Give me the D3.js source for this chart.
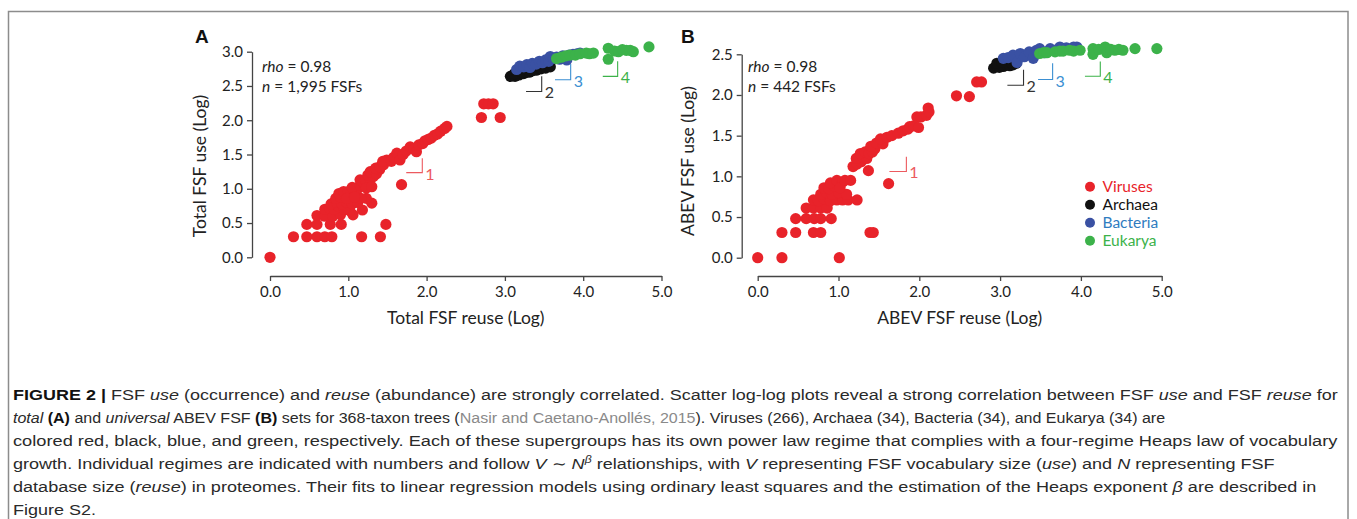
<!DOCTYPE html>
<html>
<head>
<meta charset="utf-8">
<script src="https://cdn.jsdelivr.net/npm/d3@7"></script>
<style>
html, body { margin: 0; padding: 0; background: #fff; }
svg text { font-family: Lato, "Open Sans", sans-serif; }
.cap text { font-family: "Liberation Sans", Arial, sans-serif; }
</style>
</head>
<body>
<svg id="fig" width="1357" height="519"></svg>
<script>
const groups = ["Viruses", "Archaea", "Bacteria", "Eukarya"];
const groupColors = { Viruses: "#e8232a", Archaea: "#111111", Bacteria: "#3a51a3", Eukarya: "#3cb24a" };
const legendColors = { Viruses: "#e8232a", Archaea: "#111111", Bacteria: "#2f7cc0", Eukarya: "#3cb24a" };
const regimeColors = { Viruses: "#ec5a5f", Archaea: "#333333", Bacteria: "#3b8fd2", Eukarya: "#3cb24a" };

const xTicks = [0, 1, 2, 3, 4, 5];
const yTicksA = [0, 0.5, 1, 1.5, 2, 2.5, 3];
const yTicksB = [0, 0.5, 1, 1.5, 2, 2.5];

// panel A: total FSF set (log reuse, log use)
const totalViruses = [
  [0.00,0.00],
  [0.30,0.30],[0.47,0.30],[0.60,0.30],[0.70,0.30],[0.79,0.30],[1.17,0.30],[1.41,0.30],
  [0.47,0.48],[0.60,0.48],[0.77,0.48],[0.91,0.48],[1.48,0.48],
  [0.60,0.61],[0.70,0.60],[0.80,0.60],[0.90,0.62],[1.06,0.62],[1.02,0.68],[1.18,0.69],
  [0.70,0.70],[0.76,0.72],[0.82,0.70],[0.88,0.74],[0.95,0.70],[0.78,0.78],[0.85,0.80],
  [0.92,0.78],[0.98,0.80],[1.05,0.78],[1.12,0.80],[1.30,0.79],[1.23,0.86],[1.16,0.86],
  [0.84,0.86],[0.90,0.88],[0.96,0.90],[1.02,0.92],[0.88,0.93],[0.94,0.96],[1.00,0.96],
  [1.08,0.95],[1.12,1.00],[1.05,1.02],[0.98,0.86],[1.08,0.88],
  [1.15,1.05],[1.20,1.08],[1.15,1.13],[1.22,1.12],[1.28,1.14],[1.23,1.01],[1.30,1.03],
  [1.25,1.20],[1.32,1.18],[1.28,1.25],[1.36,1.22],[1.40,1.28],[1.35,1.30],[1.40,1.32],
  [1.45,1.35],[1.49,1.42],[1.44,1.40],[1.55,1.40],[1.58,1.46],[1.62,1.52],[1.66,1.42],
  [1.70,1.50],[1.74,1.55],[1.68,1.06],[1.79,1.61],[1.84,1.58],[1.87,1.54],[1.90,1.64],
  [1.95,1.66],[1.98,1.70],[2.02,1.72],[2.06,1.74],[2.10,1.78],[2.14,1.80],[2.18,1.84],
  [2.23,1.88],[2.26,1.91],
  [2.70,2.04],[2.94,2.04],[2.73,2.24],[2.79,2.24],[2.85,2.24]
];
const totalArchaea = [
  [3.07,2.64],[3.10,2.65],[3.13,2.64],[3.15,2.67],[3.18,2.66],[3.21,2.68],[3.24,2.68],
  [3.27,2.70],[3.31,2.70],[3.35,2.72],[3.40,2.73],[3.46,2.75],[3.52,2.76],[3.58,2.78],
  [3.12,2.68],[3.20,2.71]
];
const totalBacteria = [
  [3.15,2.74],[3.19,2.79],[3.24,2.78],[3.28,2.81],[3.32,2.77],[3.35,2.83],[3.40,2.82],
  [3.44,2.86],[3.48,2.84],[3.52,2.88],[3.56,2.86],[3.58,2.93],[3.62,2.90],[3.66,2.92],
  [3.70,2.89],[3.74,2.94],[3.79,2.88],[3.82,2.95],[3.87,2.96],[3.92,2.97],[3.96,2.98]
];
const totalEukarya = [
  [3.66,2.90],[3.72,2.92],[3.78,2.94],[3.83,2.95],[3.90,2.95],[3.96,2.97],[4.04,2.98],
  [4.08,2.97],[4.13,2.98],[4.32,3.05],[4.32,2.89],[4.40,3.01],[4.45,3.00],[4.50,3.03],
  [4.55,3.02],[4.60,3.02],[4.64,3.00],[4.84,3.07]
];

// panel B: universal ABEV FSF set
const abevViruses = [
  [0.00,0.00],[0.30,0.00],[1.01,0.00],
  [0.30,0.31],[0.47,0.31],[0.69,0.31],[0.78,0.31],[1.39,0.31],[1.43,0.31],
  [0.47,0.48],[0.60,0.48],[0.70,0.48],[0.78,0.48],[0.91,0.48],
  [0.60,0.61],[0.69,0.61],[0.78,0.61],[0.86,0.61],
  [0.69,0.71],[0.75,0.70],[0.82,0.72],[0.90,0.70],[0.98,0.71],[1.05,0.71],[1.12,0.71],[1.23,0.71],
  [0.78,0.78],[0.85,0.80],[0.92,0.78],[1.00,0.80],[1.10,0.78],[0.82,0.86],[0.88,0.85],
  [0.95,0.88],[0.90,0.92],[0.98,0.95],[1.05,0.93],[1.02,0.86],[1.08,0.95],
  [1.62,0.91],[1.15,0.95],
  [1.37,1.07],[1.18,1.12],[1.23,1.15],[1.28,1.18],[1.22,1.22],[1.30,1.24],[1.35,1.22],
  [1.27,1.28],[1.33,1.30],[1.38,1.28],[1.42,1.30],[1.45,1.34],[1.40,1.37],[1.47,1.41],
  [1.55,1.40],[1.52,1.46],[1.60,1.48],[1.66,1.50],[1.74,1.53],[1.80,1.56],[1.86,1.58],
  [1.88,1.61],[1.93,1.62],[1.99,1.60],[1.97,1.73],[2.02,1.73],[2.09,1.75],[2.11,1.84],
  [2.12,1.79],
  [2.46,1.99],[2.62,1.98],[2.71,2.16],[2.77,2.16]
];
const abevArchaea = [
  [2.92,2.33],[2.96,2.36],[2.99,2.34],[3.04,2.35],[3.08,2.37],[3.12,2.36],[3.16,2.37],
  [2.96,2.39],[3.02,2.40],[3.20,2.39]
];
const abevBacteria = [
  [3.04,2.45],[3.10,2.46],[3.16,2.49],[3.21,2.40],[3.25,2.51],[3.30,2.47],[3.36,2.53],
  [3.41,2.45],[3.45,2.55],[3.49,2.57],[3.55,2.52],[3.62,2.57],[3.68,2.55],[3.74,2.59],
  [3.82,2.58],[3.91,2.59],[3.95,2.59]
];
const abevEukarya = [
  [3.49,2.51],[3.54,2.52],[3.58,2.52],[3.68,2.53],[3.74,2.54],[3.78,2.54],[3.86,2.55],
  [3.91,2.54],[3.99,2.55],[4.15,2.57],[4.15,2.50],[4.22,2.56],[4.30,2.59],[4.32,2.52],
  [4.37,2.56],[4.42,2.55],[4.47,2.56],[4.52,2.55],[4.67,2.57],[4.94,2.57]
];

// regime brackets, in data units: vertical at x, horizontal back to left
const regimesA = [
  { label: "1", group: "Viruses",  x: 1.945, left: 1.74, top: 1.445, bottom: 1.235 },
  { label: "2", group: "Archaea",  x: 3.47,  left: 3.27, top: 2.64,  bottom: 2.42 },
  { label: "3", group: "Bacteria", x: 3.84,  left: 3.64, top: 2.82,  bottom: 2.59 },
  { label: "4", group: "Eukarya",  x: 4.44,  left: 4.25, top: 2.86,  bottom: 2.64 }
];
const regimesB = [
  { label: "1", group: "Viruses",  x: 1.84, left: 1.63, top: 1.24, bottom: 1.06 },
  { label: "2", group: "Archaea",  x: 3.29, left: 3.09, top: 2.31, bottom: 2.12 },
  { label: "3", group: "Bacteria", x: 3.65, left: 3.47, top: 2.39, bottom: 2.19 },
  { label: "4", group: "Eukarya",  x: 4.24, left: 4.05, top: 2.41, bottom: 2.23 }
];

const svg = d3.select("#fig");

// figure frame
svg.append("rect").attr("x", 8.5).attr("y", 11.5).attr("width", 1339.5).attr("height", 600)
  .attr("fill", "none").attr("stroke", "#8c8c8c").attr("stroke-width", 1.5);

function drawPanel(p) {
  const g = svg.append("g");
  const x = d3.scaleLinear().domain([0, 5]).range(p.xRange);
  const y = d3.scaleLinear().domain([0, p.yMax]).range(p.yRange);

  const yAxis = g.append("g").attr("transform", `translate(${p.yAxisX},0)`)
    .call(d3.axisLeft(y).tickValues(p.yTicks).tickFormat(d3.format(".1f")).tickSize(5).tickSizeOuter(0).tickPadding(4));
  const xAxis = g.append("g").attr("transform", `translate(0,${p.xAxisY})`)
    .call(d3.axisBottom(x).tickValues(xTicks).tickFormat(d3.format(".1f")).tickSize(5).tickSizeOuter(0).tickPadding(5));
  [yAxis, xAxis].forEach(a => {
    a.selectAll("path, line").attr("stroke", "#444").attr("stroke-width", 1.3);
    a.selectAll("text").attr("font-size", "15px").attr("fill", "#222")
      .style("font-family", "Lato, 'Open Sans', sans-serif");
  });

  g.append("text").attr("x", (p.xRange[0] + p.xRange[1]) / 2).attr("y", 324)
    .attr("text-anchor", "middle").attr("font-size", "17.5px").attr("fill", "#222").text(p.xLabel);
  g.append("text").attr("transform", `translate(${p.yLabelX},${p.yLabelY}) rotate(-90)`)
    .attr("text-anchor", "middle").attr("font-size", "17.5px").attr("fill", "#222").text(p.yLabel);

  g.append("text").attr("x", p.letterX).attr("y", 43).attr("font-size", "19px").attr("font-weight", "bold")
    .style("font-family", "'Liberation Sans', Arial, sans-serif").attr("fill", "#111").text(p.letter);

  const t1 = g.append("text").attr("x", p.statX).attr("y", 72).attr("font-size", "15.5px").attr("fill", "#222");
  t1.append("tspan").attr("font-style", "italic").text("rho");
  t1.append("tspan").text(" = " + p.rho);
  const t2 = g.append("text").attr("x", p.statX).attr("y", 92).attr("font-size", "15.5px").attr("fill", "#222");
  t2.append("tspan").attr("font-style", "italic").text("n");
  t2.append("tspan").text(" = " + p.n + " FSFs");

  p.series.forEach((s, i) => {
    g.append("g").selectAll("circle").data(s).join("circle")
      .attr("cx", d => x(d[0])).attr("cy", d => y(d[1])).attr("r", 5.6)
      .attr("fill", groupColors[groups[i]]);
  });

  p.regimes.forEach(r => {
    const c = regimeColors[r.group];
    g.append("path")
      .attr("d", `M${x(r.left)},${y(r.bottom)}H${x(r.x)}V${y(r.top)}`)
      .attr("fill", "none").attr("stroke", c).attr("stroke-width", 1.1);
    g.append("text").attr("x", x(r.x) + 3).attr("y", y(r.bottom) + 7)
      .attr("font-size", "16px").attr("fill", c).text(r.label);
  });
}

drawPanel({
  letter: "A", letterX: 195, statX: 262, rho: "0.98", n: "1,995",
  xRange: [270, 661.5], yRange: [257.3, 51.7], yMax: 3, yTicks: yTicksA,
  yAxisX: 252, xAxisY: 276,
  xLabel: "Total FSF reuse (Log)", yLabel: "Total FSF use (Log)", yLabelX: 206, yLabelY: 166,
  series: [totalViruses, totalArchaea, totalBacteria, totalEukarya], regimes: regimesA
});
drawPanel({
  letter: "B", letterX: 681, statX: 748, rho: "0.98", n: "442",
  xRange: [757.7, 1161.7], yRange: [257.7, 54.3], yMax: 2.5, yTicks: yTicksB,
  yAxisX: 741.7, xAxisY: 276,
  xLabel: "ABEV FSF reuse (Log)", yLabel: "ABEV FSF use (Log)", yLabelX: 694, yLabelY: 161,
  series: [abevViruses, abevArchaea, abevBacteria, abevEukarya], regimes: regimesB
});

// legend (panel B)
const leg = svg.append("g");
groups.forEach((gname, i) => {
  const yy = 186.7 + i * 18;
  leg.append("circle").attr("cx", 1090).attr("cy", yy).attr("r", 5).attr("fill", groupColors[gname]);
  leg.append("text").attr("x", 1102.5).attr("y", yy + 5.5).attr("font-size", "15.5px")
    .attr("fill", legendColors[gname]).text(gname);
});

// caption
const captionLines = [
  [["FIGURE 2 |", "b"], [" FSF "], ["use", "i"], [" (occurrence) and "], ["reuse", "i"], [" (abundance) are strongly correlated. Scatter log-log plots reveal a strong correlation between FSF "], ["use", "i"], [" and FSF "], ["reuse", "i"], [" for"]],
  [["total", "i"], [" "], ["(A)", "b"], [" and "], ["universal", "i"], [" ABEV FSF "], ["(B)", "b"], [" sets for 368-taxon trees ("], ["Nasir and Caetano-Anollés, 2015", "g"], ["). Viruses (266), Archaea (34), Bacteria (34), and Eukarya (34) are"]],
  [["colored red, black, blue, and green, respectively. Each of these supergroups has its own power law regime that complies with a four-regime Heaps law of vocabulary"]],
  [["growth. Individual regimes are indicated with numbers and follow "], ["V", "i"], [" ∼ "], ["N", "i"], ["β", "s"], [" relationships, with "], ["V", "i"], [" representing FSF vocabulary size ("], ["use", "i"], [") and "], ["N", "i"], [" representing FSF"]],
  [["database size ("], ["reuse", "i"], [") in proteomes. Their fits to linear regression models using ordinary least squares and the estimation of the Heaps exponent "], ["β", "i"], [" are described in"]],
  [["Figure S2."]]
];
// right end of each line in the reference (null: keep the first line's squeeze)
const captionEnds = [1339, 1166, 1339, 1276, 1317, null];

const cap = svg.append("g").attr("class", "cap");
const capTexts = captionLines.map((line, i) => {
  const t = cap.append("text").attr("x", 0).attr("y", 0).attr("font-size", "15.5px").attr("fill", "#2a2a2a");
  line.forEach(([s, st]) => {
    const ts = t.append("tspan").text(s);
    if (st === "b") ts.attr("font-weight", "bold").attr("fill", "#111");
    if (st === "i") ts.attr("font-style", "italic");
    if (st === "g") ts.attr("fill", "#8a8a8a");
    if (st === "s") ts.attr("font-style", "italic").attr("font-size", "10.5px").attr("dy", -6);
  });
  t.selectAll("tspan").each(function(d, j, nodes) {
    if (j > 0 && nodes[j - 1].getAttribute("dy") === "-6") d3.select(this).attr("dy", 6);
  });
  return t;
});
const baseScale = (1339 - 13) / capTexts[0].node().getComputedTextLength();
capTexts.forEach((t, i) => {
  const end = captionEnds[i];
  const sx = end ? (end - 13) / t.node().getComputedTextLength() : baseScale;
  t.attr("transform", `translate(13,${399.5 + i * 23}) scale(${sx},1)`);
});
</script>
</body>
</html>
